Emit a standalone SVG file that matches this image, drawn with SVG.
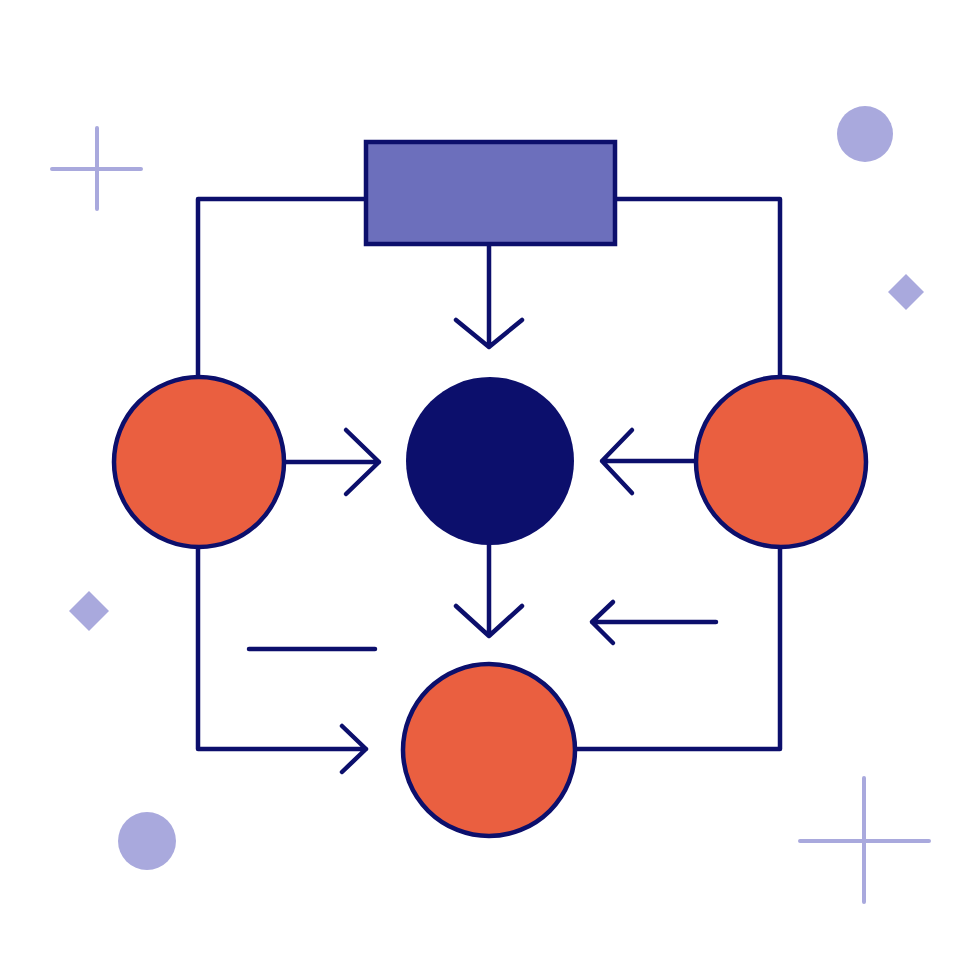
<svg xmlns="http://www.w3.org/2000/svg" width="980" height="980" viewBox="0 0 980 980">
<style>
.edge{fill:none;stroke:#0c0f6c;stroke-width:4.5;stroke-linecap:round;stroke-linejoin:round}
.node{stroke:#0c0f6c;stroke-width:4.5}
.orange{fill:#ea5f40}
.deco{fill:#a9a9dd}
.decoline{fill:none;stroke:#a9a9dd;stroke-width:4;stroke-linecap:round}
</style>
<rect width="980" height="980" fill="#ffffff"/>
<g id="decorations">
<path class="decoline" d="M52 169H141M97 128V209"/>
<path class="decoline" d="M800 841H929M864 778V902"/>
<circle class="deco" cx="865" cy="134" r="28"/>
<circle class="deco" cx="147" cy="841" r="29"/>
<path class="deco" d="M906 274L924 292L906 310L888 292Z"/>
<path class="deco" d="M89 591L109 611L89 631L69 611Z"/>
</g>
<g id="connectors">
<path class="edge" d="M366 199H198V378"/>
<path class="edge" d="M615 199H780V378"/>
<path class="edge" d="M489 244V347M456 320L489 347L522 320"/>
<path class="edge" d="M284 462H379M346 430L379 462L346 494"/>
<path class="edge" d="M696 461H602M632 430L602 461L632 493"/>
<path class="edge" d="M489 543V636M456 606L489 636L522 606"/>
<path class="edge" d="M716 622H592M613 602L592 622L613 643"/>
<path class="edge" d="M249 649H375"/>
<path class="edge" d="M198 547V749H366M342 726L366 749L342 772"/>
<path class="edge" d="M575 749H780V547"/>
</g>
<g id="node-top">
<rect class="node" x="366" y="142" width="249" height="102" fill="#6c6fbc"/>
</g>
<g id="node-left">
<circle class="node orange" cx="199" cy="462" r="85"/>
</g>
<g id="node-center">
<circle cx="490" cy="461" r="84" fill="#0c0f6c"/>
</g>
<g id="node-right">
<circle class="node orange" cx="781" cy="462" r="85"/>
</g>
<g id="node-bottom">
<circle class="node orange" cx="489" cy="750" r="86"/>
</g>
</svg>
